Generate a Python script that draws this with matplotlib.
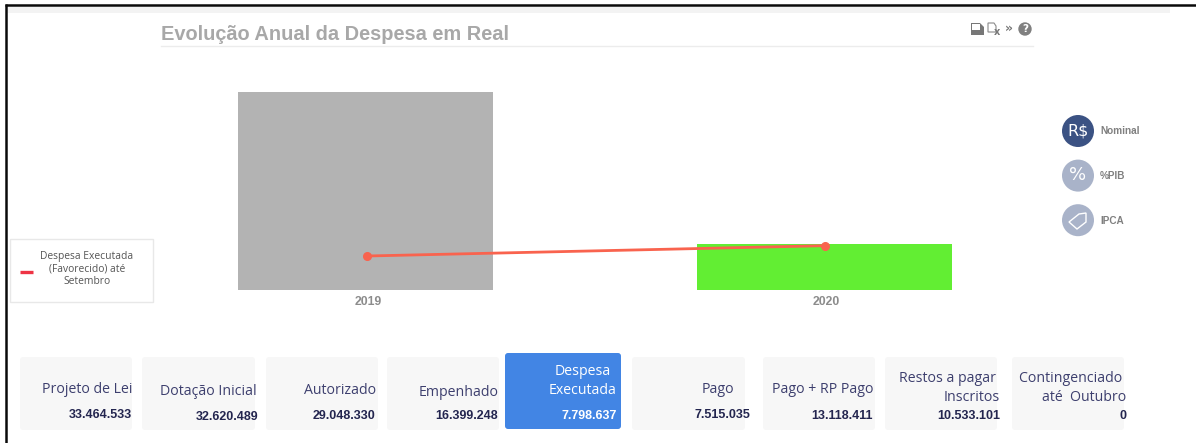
"""Evolucao anual da despesa: bars + line, with the page furniture around it."""
import matplotlib
matplotlib.use("Agg")
import matplotlib.pyplot as plt
from matplotlib.patches import Circle, FancyBboxPatch, Polygon, Rectangle
from matplotlib.transforms import Affine2D, offset_copy

W, H = 1196, 443

years = ["2019", "2020"]
bar_values = [33.5, 7.8]  # milhoes
line_values = [5.75, 7.5]
bar_colors = ["#b3b3b3", "#62ee33"]

card_labels = ["Projeto de Lei", "Dotação Inicial", "Autorizado", "Empenhado", "Despesa\nExecutada",
               "Pago", "Pago + RP Pago", "Restos a pagar \nInscritos", "Contingenciado \naté  Outubro"]
card_values = ["33.464.533", "32.620.489", "29.048.330", "16.399.248", "7.798.637",
               "7.515.035", "13.118.411", "10.533.101", "0"]
unit_labels = ["Nominal", "%PIB", "IPCA"]
unit_symbols = ["R$", "%", ""]
legend_label = "Despesa Executada\n(Favorecido) até\nSetembro"
title = "Evolução Anual da Despesa em Real"

# card layout in pixels
card_boxes = [(20, 132, 357, 430), (142, 255, 357, 430), (266, 378, 357, 430), (387, 499, 357, 430),
              (505, 621, 353, 429), (632, 745, 357, 430), (763, 875, 357, 430), (885, 997, 357, 430),
              (1012, 1124, 357, 430)]
label_right = [132, 257, 376, 499, 617, 734, 873, 1000, 1126]
label_bottom = [397, 399, 398, 400, 398, 397, 397, 405, 405]
value_right = [132, 258, 375, 498, 617, 750, 873, 1000, 1126]
value_y = [415, 417, 416, 416, 416, 415, 416, 416, 416]

fig = plt.figure(figsize=(W / 100, H / 100), dpi=100, facecolor="white")

# whole-figure overlay in pixel coordinates
page = fig.add_axes([0, 0, 1, 1], zorder=0)
page.set_xlim(0, W); page.set_ylim(H, 0); page.axis("off")

page.add_patch(Rectangle((8, 7), 1162, 6, color="#f3f3f3", lw=0))
page.plot([5, W], [5, 5], color="#0a0a0a", lw=1.8, solid_capstyle="butt")
page.plot([6, 6], [4, H], color="#0a0a0a", lw=1.8, solid_capstyle="butt")

page.text(161, 40, title, fontsize=14.42, fontweight="bold", family="Liberation Sans", color="#a8a8a8", va="baseline")
page.plot([161, 1033], [45.5, 45.5], color="#ececec", lw=1)

# toolbar icons
page.add_patch(Polygon([(971, 35), (971, 23), (980, 23), (984, 27), (984, 35)], color="#777777", lw=0))
page.add_patch(Rectangle((972, 24), 8, 6, color="white", lw=0))
page.add_patch(Polygon([(988, 23), (994, 23), (996, 26), (996, 32), (988, 32)], fc="white", ec="#8a8a8a", lw=0.8))
page.text(997, 32, "x", fontsize=7, color="#777777", ha="center", va="center", fontweight="bold")
page.text(1009, 28, "»", fontsize=9, color="#777777", ha="center", va="center", fontweight="bold")
page.add_patch(Circle((1025, 29), 6.7, color="#808080", lw=0))
page.text(1025, 29, "?", fontsize=7.5, color="white", ha="center", va="center", fontweight="bold")

# legend box
page.add_patch(Rectangle((9.5, 238.5), 143, 63, fc="white", ec="#e8e8e8", lw=1))
page.plot([20, 33], [272, 272], color="#ee3344", lw=2.4, solid_capstyle="butt")
page.text(87, 269, legend_label, fontsize=7.4, family="Open Sans", color="#555555",
          ha="center", va="center", linespacing=1.2)

# unit buttons
for i, (lab, sym) in enumerate(zip(unit_labels, unit_symbols)):
    cy = 131 + i * 44.6
    page.add_patch(Circle((1078, cy), 16, color="#3b5283" if i == 0 else "#a9b3c9", lw=0))
    if sym:
        page.text(1078, cy - 0.5, sym, fontsize=11.5 if i == 0 else 13, color="white", ha="center", va="center")
    else:
        page.add_patch(Polygon([(1069, 222), (1079, 214), (1086, 213), (1086, 222), (1077, 229)],
                               fc="none", ec="white", lw=1))
    page.text(1100, cy + 0.5, lab, fontsize=7.2, fontweight="bold", family="Liberation Sans", color="#808080", va="center")

# cards
for i, (x0, x1, y0, y1) in enumerate(card_boxes):
    active = i == 4
    page.add_patch(FancyBboxPatch((x0 + 3, y0 + 3), x1 - x0 - 6, y1 - y0 - 6, boxstyle="round,pad=3",
                                  fc="#4285e4" if active else "#f7f7f7", lw=0))
    page.text(label_right[i], label_bottom[i], card_labels[i], fontsize=10.2, family="Open Sans",
              color="white" if active else "#3d3f6e", ha="right", va="bottom",
              linespacing=1.35, multialignment="center" if active else "right")
    page.text(value_right[i], value_y[i], card_values[i], fontsize=9, fontweight="bold", family="Liberation Sans",
              color="white" if active else "#23254f", ha="right", va="center")

# chart itself, scaled so that 2019 and 2020 sit at x=365.5 and x=824 and 0 at y=290
px_per_year = 458.5
px_per_unit = 198 / bar_values[0]
left, right, top, bottom = 161, 1033, 60, 290
ax = fig.add_axes([left / W, 1 - bottom / H, (right - left) / W, (bottom - top) / H], zorder=1)
ax.patch.set_alpha(0)
xs = list(range(len(years)))
ax.bar(xs, bar_values, width=255 / px_per_year, color=bar_colors, linewidth=0)
line_shift = offset_copy(ax.transData, fig=fig, x=1.0, y=0, units="dots")
ax.plot(xs, line_values, color="#f9634e", lw=2, marker="o", ms=5.5, solid_capstyle="round", transform=line_shift)
ax.set_xlim((left - 365.5) / px_per_year, (right - 365.5) / px_per_year)
ax.set_ylim(0, (bottom - top) / px_per_unit)
ax.set_xticks(xs, years)
ax.set_yticks([])
ax.tick_params(axis="x", length=0, pad=4, labelsize=8.8, labelcolor="#8c8c8c")
for t in ax.get_xticklabels():
    t.set_fontweight("bold"); t.set_family("Liberation Sans")
    t.set_transform(t.get_transform() + Affine2D().translate(2.5, 0))
for s in ax.spines.values():
    s.set_visible(False)

fig.savefig("out.png", dpi=100)
